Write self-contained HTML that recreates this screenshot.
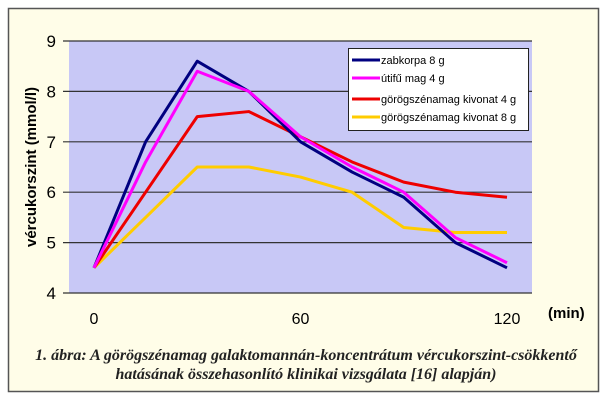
<!DOCTYPE html>
<html><head><meta charset="utf-8"><style>
body{margin:0;background:#fff;width:606px;height:402px;overflow:hidden;font-family:"Liberation Sans",sans-serif}
</style></head><body>
<svg width="606" height="402" xmlns="http://www.w3.org/2000/svg">
<rect x="8.5" y="8.5" width="590" height="383" fill="#fffde8" stroke="#555" stroke-width="1.5"/>
<rect x="69" y="41" width="463" height="252" fill="#c8c8f6"/>
<g id="grid"></g>
<g id="series"></g>
<text x="36" y="167" transform="rotate(-90 36 167)" text-anchor="middle" font-size="15" font-weight="bold">vércukorszint (mmol/l)</text>
<text x="548" y="318" font-size="15" font-weight="bold">(min)</text>
<g>
<rect x="348.5" y="48.5" width="180" height="82" fill="#fff" stroke="#222"/>
<g id="legend"></g>
</g>
<text x="306" y="360" text-anchor="middle" font-family="Liberation Serif,serif" font-style="italic" font-weight="bold" font-size="16" fill="#222">1. ábra: A görögszénamag galaktomannán-koncentrátum vércukorszint-csökkentő</text>
<text x="306" y="379" text-anchor="middle" font-family="Liberation Serif,serif" font-style="italic" font-weight="bold" font-size="16" fill="#222">hatásának összehasonlító klinikai vizsgálata [16] alapján)</text>
</svg>
<script>
const times=[0,15,30,45,60,75,90,105,120];
const zabkorpa=[4.5,7.0,8.6,8.0,7.0,6.4,5.9,5.0,4.5];
const utifu=[4.5,6.6,8.4,8.0,7.1,6.5,6.0,5.1,4.6];
const kivonat4=[4.5,6.0,7.5,7.6,7.1,6.6,6.2,6.0,5.9];
const kivonat8=[4.5,5.5,6.5,6.5,6.3,6.0,5.3,5.2,5.2];
const seriesNames=["zabkorpa 8 g","útifű mag 4 g","görögszénamag kivonat 4 g","görögszénamag kivonat 8 g"];
const yTicks=[4,5,6,7,8,9];
const xTicks=[0,60,120];
const colors=["#000080","#ff00ff","#ee0000","#ffcc00"];
const NS="http://www.w3.org/2000/svg";
const xs=t=>94+t*(413/120);
const ys=v=>293-(v-4)*50.4;
const grid=document.getElementById('grid');
function mk(tag,attrs,parent){const e=document.createElementNS(NS,tag);for(const k in attrs)e.setAttribute(k,attrs[k]);parent.appendChild(e);return e;}
yTicks.forEach(v=>{
 const l=mk('line',{x1:63,x2:532,y1:ys(v),y2:ys(v),stroke:'#333','stroke-width':1.2},grid);
 
 
 const t=mk('text',{x:56,y:ys(v)+6,'text-anchor':'end','font-size':17},grid);
 t.textContent=v;
 
 
});
xTicks.forEach(v=>{
 const t=mk('text',{x:xs(v),y:324,'text-anchor':'middle','font-size':16},grid);
 t.textContent=v;
 
 
});
const sg=document.getElementById('series');
[zabkorpa,utifu,kivonat4,kivonat8].forEach((d,i)=>{
 const p=mk('polyline',{points:d.map((v,j)=>xs(times[j])+','+ys(v)).join(' '),fill:'none',stroke:colors[i],'stroke-width':3,'stroke-linejoin':'round'},sg);
 
 
});
sg.insertBefore(sg.children[3],sg.children[0]);
sg.insertBefore(sg.children[3],sg.children[1]);
const lg=document.getElementById('legend');
const ly=[60,78,99,117];
seriesNames.forEach((n,i)=>{
 const l=mk('line',{x1:352,x2:380,y1:ly[i],y2:ly[i],stroke:colors[i],'stroke-width':3},lg);
 
 
 const t=mk('text',{x:381,y:ly[i]+4,'font-size':11},lg);
 t.textContent=n;
 
 
});
</script>
</body></html>
